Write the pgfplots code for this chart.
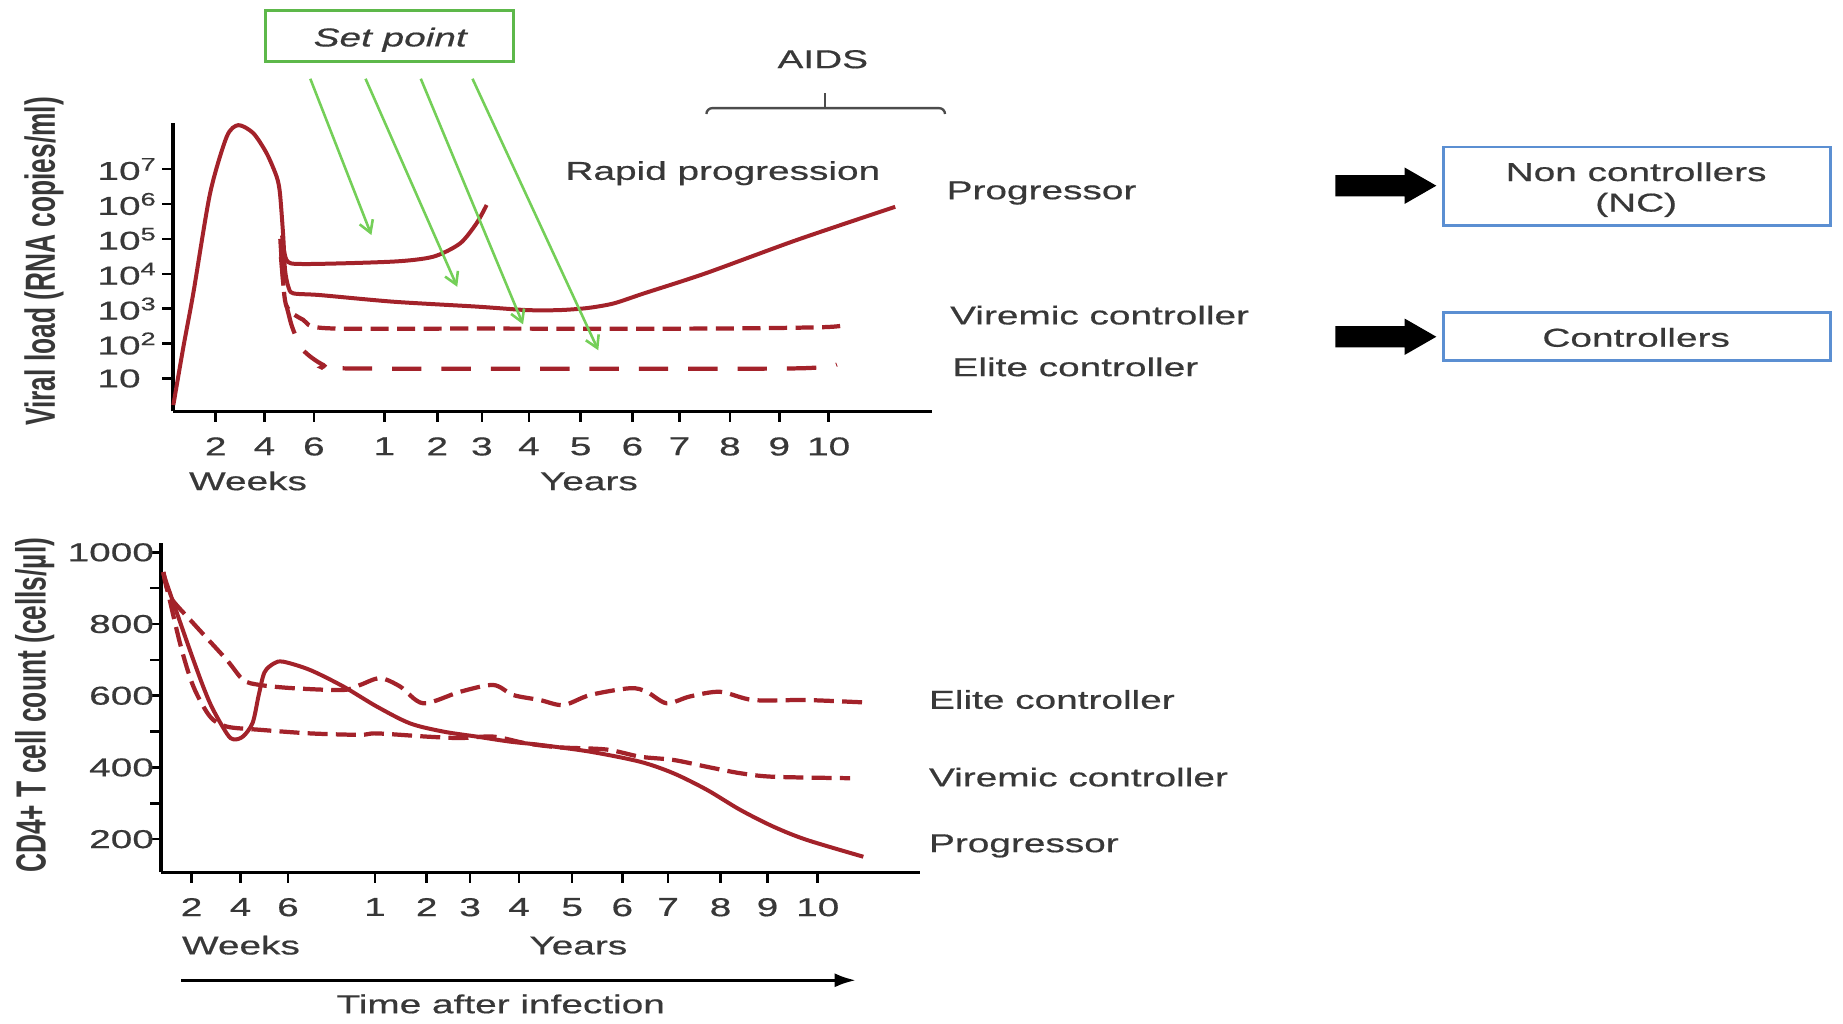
\documentclass[border=0pt]{standalone}
\usepackage{fontspec}
\setmainfont{Liberation Sans}[FakeStretch=1.5, FakeBold=0.6]
\newfontfamily\plainsans{Liberation Sans}
\usepackage{graphicx}
\usepackage{pgfplots}
\pgfplotsset{compat=1.18}
\usetikzlibrary{arrows.meta}
\definecolor{cred}{HTML}{A3222A}
\definecolor{cgreen}{HTML}{74CF58}
\definecolor{cgbox}{HTML}{5DB84A}
\definecolor{cbox}{HTML}{5B8FD2}
\definecolor{ctext}{HTML}{383838}
\begin{document}
\begin{tikzpicture}
\path[use as bounding box] (0,0) rectangle (784pt,-435.5pt);
\pgfplotsset{
  myax/.style={
    scale only axis, anchor=south west, clip=false,
    axis lines=left,
    x axis line style={-, line width=1.2pt},
    y axis line style={-, line width=1.6pt},
    tick align=outside, major tick length=4.5pt, minor tick length=4.5pt,
    tick style={black, line width=1.1pt},
    ticklabel style={font=\fontsize{11}{13}\selectfont, text=ctext},
    xticklabel style={yshift=-3pt},
    /pgf/number format/assume math mode=true,
  }
}
% ---------- top: viral load (y = log10 copies/ml) ----------
\begin{axis}[myax, at={(73.5pt,-175pt)}, width=323pt, height=122.5pt,
  xmin=147, xmax=793, ymin=0.057, ymax=8.31,
  xtick={183.5,225,267,327,372,410,450,494,538,578,621,663,705},
  xticklabels={2,4,6,1,2,3,4,5,6,7,8,9,10},
  ytick={1,2,3,4,5,6,7},
  yticklabels={10,10\textsuperscript{2},10\textsuperscript{3},10\textsuperscript{4},10\textsuperscript{5},10\textsuperscript{6},10\textsuperscript{7}},
  yticklabel style={text width=24pt, align=left},
]
\addplot[cred, line width=1.7pt, smooth, tension=0.45] coordinates {
(147.5,0.24) (156,1.9) (164.5,3.45) (178.7,6.30) (192.9,7.93) (202.8,8.26) (215.5,8.03) (226.9,7.45) (235.4,6.78) (238.2,6.30) (241,5.06) (242.5,4.11) (245.3,3.63) (249.5,3.44) (272.3,3.39) (334.6,3.20) (405.5,3.06) (448.1,2.96) (476.4,2.96) (500,3.02) (522,3.15) (548,3.44) (600,4.01) (678,4.97) (761.6,5.92)};
\addplot[cred, line width=1.7pt, smooth, tension=0.45] coordinates {
(240,5.1) (243.9,4.39) (258,4.28) (334.6,4.35) (368.6,4.49) (391.4,4.87) (405.5,5.45) (414,5.97)};
\addplot[cred, line width=1.8pt, smooth, tension=0.5, dash pattern=on 7.7pt off 3.6pt] coordinates {
(238.5,5.0) (240.5,4.0) (243.9,3.06) (258,2.68) (278,2.44) (400,2.43) (600,2.43) (700,2.47) (720,2.54)};
\addplot[cred, line width=1.8pt, smooth, tension=0.5, dash pattern=on 12.5pt off 8.5pt] coordinates {
(239,4.5) (242,3.4) (245.5,2.85) (249.5,2.39) (258,1.81) (275,1.39) (292,1.29) (500,1.28) (678,1.29) (712,1.40)};
\end{axis}
% ---------- bottom: CD4 ----------
\begin{axis}[myax, at={(68.5pt,-371pt)}, width=323pt, height=140pt,
  xmin=137, xmax=783, ymin=108, ymax=1026,
  xtick={163,204.6,245,319,363,400,441.6,486.8,529.4,568.4,613,653,695.7},
  xticklabels={2,4,6,1,2,3,4,5,6,7,8,9,10},
  ytick={200,400,600,800,1000},
  yticklabels={200,400,600,800,1000},
  minor ytick={300,500,700,900},
  yticklabel style={xshift=5pt},
]
\addplot[cred, line width=1.7pt, smooth, tension=0.5] coordinates {
(139,940) (164.5,700) (178.7,579) (192.9,495) (199,478) (207,487) (215,525) (220,600) (225,665) (233,690) (241,695) (263.7,672) (292,626) (320.5,570) (348.8,523) (377.2,500) (405.6,486) (433.9,472) (459.4,463) (502,444) (544.5,416) (572.8,384) (601.2,338) (629.6,282) (657.9,235) (686.3,198) (734.5,151)};
\addplot[cred, line width=1.8pt, smooth, tension=0.5, dash pattern=on 8.5pt off 3.5pt] coordinates {
(139,945) (144.6,877) (164.5,802) (192.9,700) (207,644) (221.2,630) (249.6,621) (292,616) (306.3,630) (323.3,649) (340.3,626) (360.1,579) (391.4,611) (419.7,630) (436.7,602) (459.4,588) (479.3,574) (502,602) (536,621) (550.2,611) (567.2,579) (587,598) (612.6,611) (640.9,588) (686.3,588) (737.4,581)};
\addplot[cred, line width=1.8pt, smooth, tension=0.5, dash pattern=on 8.5pt off 3.5pt] coordinates {
(139,945) (153.1,747) (164.5,626) (178.7,542) (192.9,514) (221.2,505) (263.7,495) (306.3,491) (320.5,495) (363,486) (391.4,482) (419.7,486) (448.1,467) (476.4,456) (516.1,450) (544.5,430) (572.8,421) (601.2,402) (629.6,384) (657.9,374) (723.2,370)};
\end{axis}
% ---------- annotations (coordinates in reference pixels) ----------
\begin{scope}[x=0.5pt, y=-0.5pt, font=\fontsize{11}{13}\selectfont, text=ctext]
\node[rotate=90] at (37.5,222.5) {\plainsans\bfseries\fontsize{11.2}{13}\selectfont\scalebox{1}[1.6]{Viral load (RNA copies/ml)}};
\node[rotate=90] at (29.5,600) {\plainsans\bfseries\fontsize{11.2}{13}\selectfont\scalebox{1}[1.6]{CD4+ T cell count (cells/µl)}};
\node[anchor=base] at (211,417) {Weeks};
\node[anchor=base] at (501,417) {Years};
\node[anchor=base] at (205,812) {Weeks};
\node[anchor=base] at (492,812) {Years};
\draw[black, line width=1.2pt, -{Latex[length=9pt,width=6pt]}] (154,834) -- (728,834);
\node[anchor=base] at (426,862) {Time after infection};
% set point
\draw[cgbox, line width=1.3pt] (226,9) rectangle (437,52);
\node[anchor=base] at (332,39.5) {\itshape Set point};
\begin{scope}[cgreen, line width=1.1pt, -{Straight Barb[length=5pt,width=6pt]}]
\draw (264,67) -- (316,200);
\draw (311,67) -- (389,244);
\draw (358,67) -- (445,276);
\draw (402,67) -- (509,298);
\end{scope}
% AIDS bracket
\node[anchor=base] at (700,58) {AIDS};
\draw[black!70, line width=1pt] (601,97) to[out=90,in=180] (606,92) -- (799,92) to[out=0,in=90] (804,97);
\draw[black!70, line width=1pt] (702,92) -- (702,79);
\node[anchor=base] at (615,153) {Rapid progression};
\begin{scope}[every node/.style={inner sep=0pt}]
\node[anchor=base west] at (805,169.5) {Progressor};
\node[anchor=base west] at (808,276) {Viremic controller};
\node[anchor=base west] at (810,320) {Elite controller};
\node[anchor=base west] at (790,603) {Elite controller};
\node[anchor=base west] at (790,669) {Viremic controller};
\node[anchor=base west] at (790,725) {Progressor};
\end{scope}
% right side
\fill[black] (1136,149) -- (1195,149) -- (1195,142.5) -- (1222,158) -- (1195,173.5) -- (1195,167) -- (1136,167) -- cycle;
\fill[black] (1136,277.5) -- (1195,277.5) -- (1195,271) -- (1222,286.5) -- (1195,302) -- (1195,295.5) -- (1136,295.5) -- cycle;
\draw[cbox, line width=1.2pt] (1228,125) rectangle (1557,192);
\node[anchor=base] at (1392,154) {Non controllers};
\node[anchor=base] at (1392,180) {(NC)};
\draw[cbox, line width=1.2pt] (1228,266) rectangle (1557,307);
\node[anchor=base] at (1392,295) {Controllers};
\end{scope}
\end{tikzpicture}
\end{document}
